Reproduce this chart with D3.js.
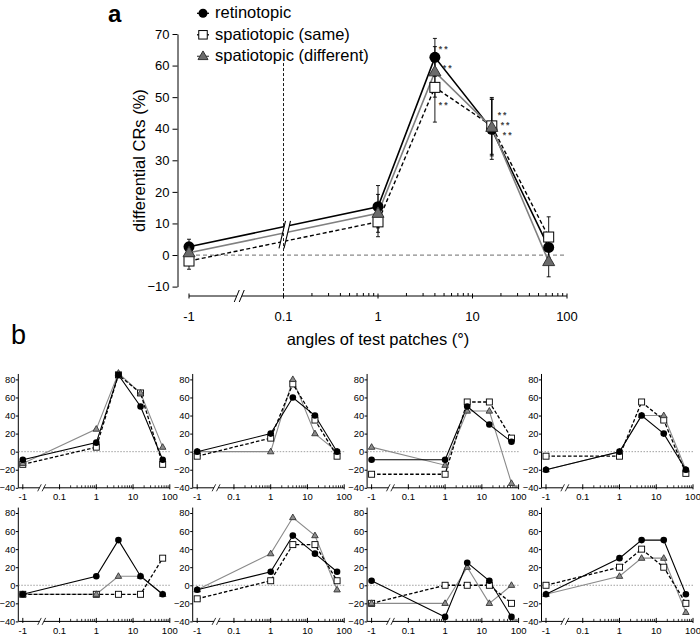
<!DOCTYPE html>
<html><head><meta charset="utf-8">
<script src="https://cdn.jsdelivr.net/npm/d3@7"></script>
<style>body{margin:0;background:#fff}svg{display:block;font-family:"Liberation Sans",Arial,Helvetica,sans-serif}</style>
</head><body><svg id="c" width="700" height="635"></svg>
<script>
// ---------- data ----------
const xCats = [-1, 1, 4, 16, 64];
const xTickVals = [-1, 0.1, 1, 10, 100];
const xTickLabels = ["-1", "0.1", "1", "10", "100"];
const xMinorVals = [0.2,0.3,0.4,0.5,0.6,0.7,0.8,0.9,2,3,4,5,6,7,8,9,20,30,40,50,60,70,80,90];
const yTicksMain = [-10, 0, 10, 20, 30, 40, 50, 60, 70];
const yTicksSmall = [-40, -20, 0, 20, 40, 60, 80];
const seriesNames = ["retinotopic", "spatiotopic (same)", "spatiotopic (different)"];

const mainRet  = [2.6, 15.3, 62.6, 39.8, 2.4];
const mainSame = [-1.9, 10.5, 53.1, 40.9, 5.7];
const mainDiff = [0.7, 13.2, 58.0, 40.4, -2.1];
const errRet  = [2.4, 6.7, 6.0, 9.5, 4.5];
const errSame = [2.6, 4.7, 11.0, 9.0, 6.4];
const errDiff = [2.5, 6.0, 8.0, 9.0, 4.8];

// significance marks: [x, y, label]
const sigX = [4.4, 4.85, 4.4, 18.5, 19.9, 20.9];
const sigY = [65.9, 59.9, 48.1, 45.0, 41.8, 38.6];
const sigLabel = ["**", "**", "**", "**", "**", "**"];

// individual subjects (panel b), order: row 1 left->right, row 2 left->right
const subjRet = [
  [-9, 10, 85, 50, -9],
  [0, 20, 60, 40, 0],
  [-9, -9, 50, 30, 11],
  [-20, 0, 40, 20, -20],
  [-10, 10, 50, 10, -10],
  [-5, 15, 55, 35, 15],
  [5, -35, 25, 5, -35],
  [-10, 30, 50, 50, -10]
];
const subjSame = [
  [-14, 5, 85, 65, -14],
  [-5, 15, 75, 35, -5],
  [-25, -25, 55, 55, 15],
  [-5, -5, 55, 35, -24],
  [-10, -10, -10, -10, 30],
  [-15, 5, 45, 45, 5],
  [-20, 0, 0, 0, -20],
  [0, 20, 40, 20, -20]
];
const subjDiff = [
  [-13, 25, 87, 65, 5],
  [0, 0, 80, 20, 0],
  [5, -15, 45, 45, -35],
  [-20, 0, 40, 40, -20],
  [-10, -10, 10, 10, -10],
  [-5, 35, 75, 55, -5],
  [-20, -20, 20, -20, 0],
  [-10, 10, 30, 30, -30]
];

// ---------- helpers ----------
const svg = d3.select("#c");
const FONT = '"Liberation Sans",Arial,Helvetica,sans-serif';
const triPath = s => { const h = s * Math.sqrt(3) / 2; return `M0,${-h*0.62}L${s/2},${h*0.38}L${-s/2},${h*0.38}Z`; };

function drawMarker(g, type, x, y, s) {
  if (type === 0) {
    g.append("circle").attr("cx", x).attr("cy", y).attr("r", s.r).attr("fill", "#000");
  } else if (type === 1) {
    g.append("rect").attr("x", x - s.sq/2).attr("y", y - s.sq/2).attr("width", s.sq).attr("height", s.sq)
      .attr("fill", "#fff").attr("stroke", "#000").attr("stroke-width", s.sw);
  } else {
    g.append("path").attr("d", triPath(s.tri)).attr("transform", `translate(${x},${y})`)
      .attr("fill", s.triFill).attr("stroke", "#333").attr("stroke-width", s.sw);
  }
}

// ---------- panel a ----------
const xm = d3.scaleLog().domain([0.01, 100]).range([189, 567]);
const xPosM = v => xm(v === -1 ? 0.01 : v);
const ym = d3.scaleLinear().domain([-10, 70]).range([286.6, 34]);
const axisY = 296;

const ga = svg.append("g");
ga.append("text").attr("x", 108).attr("y", 22).attr("font-size", 24).attr("font-weight", "bold").text("a");

// y axis
const yAx = ga.append("g").attr("transform", "translate(177.5,0)")
  .call(d3.axisLeft(ym).tickValues(yTicksMain).tickSize(5).tickPadding(3).tickSizeOuter(0));
yAx.attr("font-family", FONT).attr("font-size", 13);
yAx.selectAll("text").attr("fill", "#000");
yAx.selectAll("line,path").attr("stroke", "#000");

ga.append("text").attr("transform", "translate(145,160.5) rotate(-90)").attr("text-anchor", "middle")
  .attr("font-size", 16.5).text("differential CRs (%)");

// zero line
ga.append("line").attr("x1", xPosM(-1)).attr("x2", xPosM(100)).attr("y1", ym(0)).attr("y2", ym(0))
  .attr("stroke", "#8a8a8a").attr("stroke-width", 1.3).attr("stroke-dasharray", "4,3");

// x axis
const brkA = (xPosM(-1) + xPosM(0.1)) / 2 + 3;
ga.append("line").attr("x1", xPosM(-1)).attr("x2", brkA - 2.5).attr("y1", axisY).attr("y2", axisY).attr("stroke", "#000");
ga.append("line").attr("x1", brkA + 2.5).attr("x2", xPosM(100)).attr("y1", axisY).attr("y2", axisY).attr("stroke", "#000");
[-2.5, 2.5].forEach(d => ga.append("line").attr("x1", brkA + d - 2.5).attr("x2", brkA + d + 2.5)
  .attr("y1", axisY + 6).attr("y2", axisY - 6).attr("stroke", "#000"));
xTickVals.forEach((v, i) => {
  ga.append("line").attr("x1", xPosM(v)).attr("x2", xPosM(v)).attr("y1", axisY - 2.5).attr("y2", axisY + 2.5).attr("stroke", "#000");
  ga.append("text").attr("x", xPosM(v)).attr("y", 320.5).attr("text-anchor", "middle").attr("font-size", 13).text(xTickLabels[i]);
});
xMinorVals.forEach(v => ga.append("line").attr("x1", xPosM(v)).attr("x2", xPosM(v)).attr("y1", axisY - 3).attr("y2", axisY).attr("stroke", "#000"));
ga.append("text").attr("x", 378).attr("y", 345).attr("text-anchor", "middle").attr("font-size", 16.5).text("angles of test patches (°)");

// series lines
const mainSeries = [mainRet, mainSame, mainDiff];
const mainErr = [errRet, errSame, errDiff];
const lineStyles = [
  {stroke: "#000", w: 1.6, dash: null},
  {stroke: "#000", w: 1.4, dash: "4,2.5"},
  {stroke: "#808080", w: 1.6, dash: null}
];
const lineGen = d3.line().x(d => xPosM(d[0])).y(d => ym(d[1]));
mainSeries.forEach((s, k) => {
  ga.append("path").attr("d", lineGen(xCats.map((x, i) => [x, s[i]])))
    .attr("fill", "none").attr("stroke", lineStyles[k].stroke).attr("stroke-width", lineStyles[k].w)
    .attr("stroke-dasharray", lineStyles[k].dash);
});
// break on data lines at 0.1
const xb = xPosM(0.1);
const yTopB = ym(d3.max(mainSeries, s => s[0] + (s[1] - s[0]) / 2)) - 6;
const yBotB = ym(d3.min(mainSeries, s => s[0] + (s[1] - s[0]) / 2)) + 7;
ga.append("path").attr("d", `M${xb-4.5},${yBotB}L${xb+2},${yTopB}L${xb+7},${yTopB}L${xb+0.5},${yBotB}Z`).attr("fill", "#fff");
[[-4.5, 2], [0.5, 7]].forEach(d => ga.append("line").attr("x1", xb + d[0]).attr("y1", yBotB).attr("x2", xb + d[1]).attr("y2", yTopB)
  .attr("stroke", "#000").attr("stroke-width", 1.1));
ga.append("line").attr("x1", xb).attr("x2", xb).attr("y1", ym(60.8)).attr("y2", axisY)
  .attr("stroke", "#000").attr("stroke-width", 0.9).attr("stroke-dasharray", "3,2");

// error bars
mainSeries.forEach((s, k) => {
  xCats.forEach((x, i) => {
    const cx = xPosM(x), e = mainErr[k][i];
    ga.append("line").attr("x1", cx).attr("x2", cx).attr("y1", ym(s[i] - e)).attr("y2", ym(s[i] + e)).attr("stroke", "#000").attr("stroke-width", 0.9);
    [s[i] - e, s[i] + e].forEach(v => ga.append("line").attr("x1", cx - 2).attr("x2", cx + 2).attr("y1", ym(v)).attr("y2", ym(v)).attr("stroke", "#000").attr("stroke-width", 0.9));
  });
});
// markers
const bigM = {r: 5.5, sq: 10, tri: 12, sw: 1, triFill: "#6b6b6b"};
mainSeries.forEach((s, k) => xCats.forEach((x, i) => drawMarker(ga, k, xPosM(x), ym(s[i]), bigM)));

// significance
sigLabel.forEach((t, i) => ga.append("text").attr("x", xPosM(sigX[i])).attr("y", ym(sigY[i]) + 5)
  .attr("font-size", 8.7).attr("font-weight", "bold").attr("fill", "#444").attr("letter-spacing", 2).text(t));

// legend
const legY = [13.3, 34.8, 56.3];
seriesNames.forEach((n, k) => {
  ga.append("line").attr("x1", 197).attr("x2", 209).attr("y1", legY[k]).attr("y2", legY[k]).attr("stroke", k === 2 ? "#555" : "#000").attr("stroke-width", 1.3);
  drawMarker(ga, k, 203, legY[k], {r: 4.5, sq: 8.5, tri: 10, sw: 1, triFill: "#6b6b6b"});
  ga.append("text").attr("x", 215).attr("y", legY[k] + 4.8).attr("font-size", 16.5).text(n);
});

// ---------- panel b ----------
const gb = svg.append("g");
gb.append("text").attr("x", 11).attr("y", 344).attr("font-size", 27).text("b");
const smallM = {r: 3.3, sq: 6, tri: 6.5, sw: 0.9, triFill: "#8c8c8c"};
const smallStyles = [
  {stroke: "#000", w: 1.1, dash: null},
  {stroke: "#000", w: 1.3, dash: "3.5,2"},
  {stroke: "#8a8a8a", w: 1.1, dash: null}
];
for (let p = 0; p < 8; p++) {
  const col = p % 4, row = Math.floor(p / 4);
  const x0 = 22.8 + col * 174.4;
  const xs = d3.scaleLog().domain([0.01, 100]).range([x0, x0 + 147.0]);
  const xP = v => xs(v === -1 ? 0.01 : v);
  const ys = d3.scaleLinear().domain([-40, 80]).range([487.8 + row * 133.6, 379.4 + row * 133.6]);
  const g = gb.append("g");
  const axX = x0 - 4.5;
  const yA = g.append("g").attr("transform", `translate(${axX},0)`)
    .call(d3.axisLeft(ys).tickValues(yTicksSmall).tickSize(2.5).tickPadding(0.5).tickSizeOuter(0));
  yA.select(".domain").remove();
  yA.attr("font-family", FONT).attr("font-size", 9.3);
  yA.selectAll("text").attr("fill", "#000");
  yA.selectAll("line").attr("stroke", "#000");
  g.append("line").attr("x1", axX).attr("x2", axX).attr("y1", ys(-40)).attr("y2", ys(86)).attr("stroke", "#000");
  // zero line
  g.append("line").attr("x1", axX).attr("x2", xP(100)).attr("y1", ys(0)).attr("y2", ys(0))
    .attr("stroke", "#777").attr("stroke-width", 0.7).attr("stroke-dasharray", "1.5,1.5");
  // x axis
  const ay = ys(-40);
  const brk = (xP(-1) + xP(0.1)) / 2 + 0.5;
  g.append("line").attr("x1", axX).attr("x2", brk - 2).attr("y1", ay).attr("y2", ay).attr("stroke", "#000");
  g.append("line").attr("x1", brk + 2).attr("x2", xP(100)).attr("y1", ay).attr("y2", ay).attr("stroke", "#000");
  [-2.2, 2.2].forEach(d => g.append("line").attr("x1", brk + d - 1.8).attr("x2", brk + d + 1.8)
    .attr("y1", ay + 3.5).attr("y2", ay - 3.5).attr("stroke", "#000").attr("stroke-width", 0.8));
  xTickVals.forEach((v, i) => {
    g.append("line").attr("x1", xP(v)).attr("x2", xP(v)).attr("y1", ay - 3.5).attr("y2", ay + 1.5).attr("stroke", "#000");
    g.append("text").attr("x", xP(v)).attr("y", ay + 12.5).attr("text-anchor", "middle").attr("font-size", 9.5).text(xTickLabels[i]);
  });
  xMinorVals.forEach(v => g.append("line").attr("x1", xP(v)).attr("x2", xP(v)).attr("y1", ay - 2.5).attr("y2", ay).attr("stroke", "#000").attr("stroke-width", 0.8));
  // lines
  const data = [subjRet[p], subjSame[p], subjDiff[p]];
  const lg = d3.line().x(d => xP(d[0])).y(d => ys(d[1]));
  [2, 1, 0].forEach(k => {
    g.append("path").attr("d", lg(xCats.map((x, i) => [x, data[k][i]])))
      .attr("fill", "none").attr("stroke", smallStyles[k].stroke).attr("stroke-width", smallStyles[k].w)
      .attr("stroke-dasharray", smallStyles[k].dash);
  });
  [1, 2, 0].forEach(k => xCats.forEach((x, i) => drawMarker(g, k, xP(x), ys(data[k][i]), smallM)));
}
</script></body></html>
